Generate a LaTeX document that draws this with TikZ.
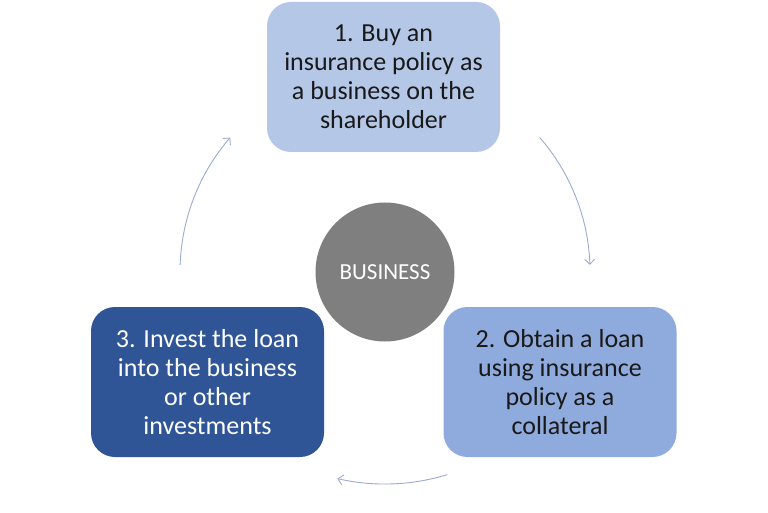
\documentclass[tikz,border=0pt]{standalone}
\usepackage{fontspec}
\setmainfont{Carlito}
\usetikzlibrary{arrows.meta}
\definecolor{stepA}{HTML}{B4C7E7}
\definecolor{stepB}{HTML}{8FAADC}
\definecolor{stepC}{HTML}{2F5597}
\definecolor{hubgray}{HTML}{7F7F7F}
\definecolor{cyclecol}{HTML}{9AACD0}
\begin{document}
\begin{tikzpicture}[x=1pt,y=1pt,
  stepbox/.style={rounded corners=24pt,minimum width=233pt,minimum height=150pt,
    align=center,font=\fontsize{26}{29}\selectfont,text=black!90},
  cycle/.style={cyclecol,line width=0.9pt,-{Straight Barb[length=5pt,width=10pt]}}]
\useasboundingbox (0,0) rectangle (768,512);
\fill[white] (0,0) rectangle (768,512);
\node[circle,fill=hubgray,minimum size=139pt,text=white,
  font=\fontsize{23}{27}\selectfont] (hub) at (385,240) {BUSINESS};
\node[stepbox,fill=stepA] (buy) at (383.5,435) {1. Buy an\\insurance policy as\\a business on the\\shareholder};
\node[stepbox,fill=stepB] (loan) at (560,130) {2. Obtain a loan\\using insurance\\policy as a\\collateral};
\node[stepbox,fill=stepC,text=white] (invest) at (207.5,130) {3. Invest the loan\\into the business\\or other\\investments};
% cycle arrows round the hub
\draw[cycle] ([shift={(178:205)}]hub.center) arc[start angle=178,end angle=139,radius=205];
\draw[cycle] ([shift={(41:205)}]hub.center) arc[start angle=41,end angle=2,radius=205];
\draw[cycle] ([shift={(-73:212)}]hub.center) arc[start angle=-73,end angle=-103,radius=212];
\end{tikzpicture}
\end{document}
